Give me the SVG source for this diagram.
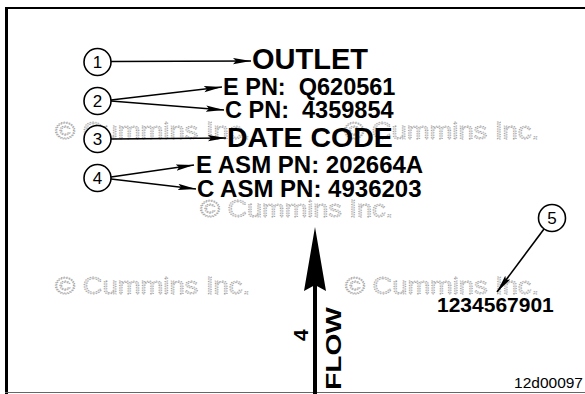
<svg xmlns="http://www.w3.org/2000/svg" width="585" height="394" viewBox="0 0 585 394">
<style>
.lbl{font-family:"Liberation Sans",Arial,sans-serif;font-weight:bold;fill:#000}
.num{font-family:"Liberation Sans",Arial,sans-serif;font-size:17px;fill:#000;text-anchor:middle}
.wm{font-family:"Liberation Sans",Arial,sans-serif;font-size:24px;fill:#e4e4e4;stroke:#9a9a9a;stroke-width:0.9;stroke-dasharray:1 1.4}
.callout{fill:#fff;stroke:#000;stroke-width:1.6}
.ln{stroke:#000;stroke-width:1.6;fill:none}
</style>
<defs>
<marker id="ah" viewBox="0 0 18 7" refX="18" refY="3.5" markerWidth="18" markerHeight="7" markerUnits="userSpaceOnUse" orient="auto">
<path d="M0,0.4 L18,3.5 L0,6.6 L3,3.5 Z" fill="#000"/>
</marker>
</defs>
<rect width="585" height="394" fill="#fff"/>
<g id="frame">
<line x1="6.5" y1="7" x2="6.5" y2="394" stroke="#000" stroke-width="3"/>
<line x1="5" y1="8" x2="585" y2="8" stroke="#000" stroke-width="2"/>
<line x1="5" y1="392.5" x2="585" y2="392.5" stroke="#666" stroke-width="1"/>
</g>
<g id="watermarks">
<text class="wm" x="55" y="139" textLength="195" lengthAdjust="spacingAndGlyphs">© Cummins Inc.</text>
<text class="wm" x="344" y="139" textLength="195" lengthAdjust="spacingAndGlyphs">© Cummins Inc.</text>
<text class="wm" x="200" y="217" textLength="193" lengthAdjust="spacingAndGlyphs">© Cummins Inc.</text>
<text class="wm" x="55" y="294" textLength="195" lengthAdjust="spacingAndGlyphs">© Cummins Inc.</text>
<text class="wm" x="345" y="294" textLength="194" lengthAdjust="spacingAndGlyphs">© Cummins Inc.</text>
</g>
<g id="connectors">
<line class="ln" x1="111" y1="61.5" x2="251" y2="61" marker-end="url(#ah)"/>
<line class="ln" x1="111" y1="100" x2="222" y2="87" marker-end="url(#ah)"/>
<line class="ln" x1="111" y1="101" x2="224" y2="110" marker-end="url(#ah)"/>
<line class="ln" x1="111" y1="139" x2="226" y2="138" marker-end="url(#ah)"/>
<line class="ln" x1="111" y1="177" x2="194" y2="165" marker-end="url(#ah)"/>
<line class="ln" x1="111" y1="179" x2="196" y2="189" marker-end="url(#ah)"/>
<line class="ln" x1="544" y1="229" x2="497" y2="292" marker-end="url(#ah)"/>
</g>
<g id="c1"><circle class="callout" cx="97.5" cy="62" r="13.5"/><text class="num" x="97.5" y="68">1</text></g>
<g id="c2"><circle class="callout" cx="97.5" cy="101" r="13.5"/><text class="num" x="97.5" y="107">2</text></g>
<g id="c3"><circle class="callout" cx="97.5" cy="139" r="13.5"/><text class="num" x="97.5" y="145">3</text></g>
<g id="c4"><circle class="callout" cx="97.5" cy="178" r="13.5"/><text class="num" x="97.5" y="184">4</text></g>
<g id="c5"><circle class="callout" cx="552" cy="218" r="13.5"/><text class="num" x="552" y="224">5</text></g>
<g id="outlet"><text class="lbl" x="252" y="69" font-size="29">OUTLET</text></g>
<g id="epn"><text class="lbl" x="223" y="95" font-size="23.5" xml:space="preserve">E PN:  Q620561</text></g>
<g id="cpn"><text class="lbl" x="225" y="118" font-size="23.5" xml:space="preserve">C PN:  4359854</text></g>
<g id="datecode"><text class="lbl" x="227" y="147" font-size="28.5">DATE CODE</text></g>
<g id="easm"><text class="lbl" x="196" y="173" font-size="24">E ASM PN: 202664A</text></g>
<g id="casm"><text class="lbl" x="197" y="197" font-size="24">C ASM PN: 4936203</text></g>
<g id="serial"><text class="lbl" x="437" y="312" font-size="21">1234567901</text></g>
<g id="flow">
<line x1="315" y1="394" x2="315" y2="284" stroke="#000" stroke-width="4"/>
<polygon points="315,227 326,291 315,285 304,291" fill="#000"/>
<text class="lbl" font-size="22" transform="translate(341,390) rotate(-90)" textLength="83" lengthAdjust="spacingAndGlyphs">FLOW</text>
<text class="lbl" font-size="21" transform="translate(308,341) rotate(-90)">4</text>
</g>
<g id="figid"><text x="583" y="388" font-family="'Liberation Sans',Arial,sans-serif" font-size="15.5" text-anchor="end" fill="#000">12d00097</text></g>
</svg>
